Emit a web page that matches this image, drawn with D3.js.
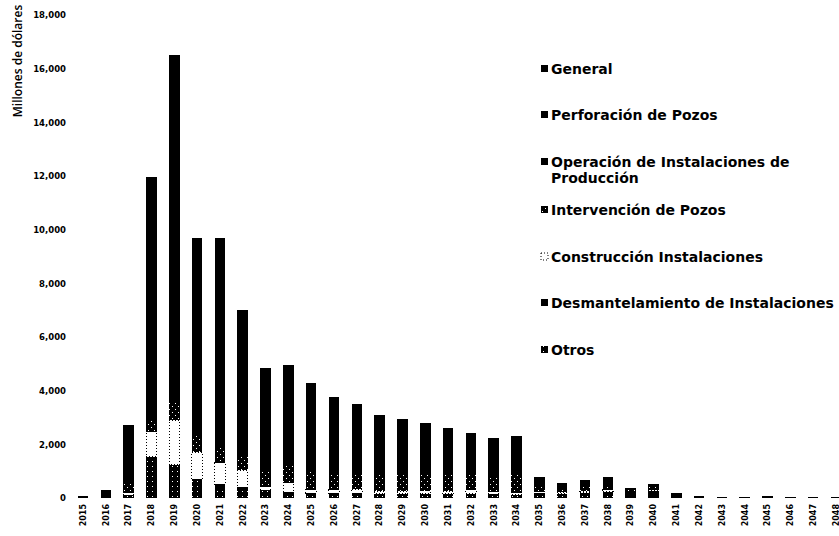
<!DOCTYPE html>
<html>
<head>
<meta charset="utf-8">
<script src="https://cdn.jsdelivr.net/npm/d3@7"></script>
<style>
  body { margin: 0; background: #fff; }
  svg { font-family: "DejaVu Sans", sans-serif; font-weight: bold; }
</style>
</head>
<body>
<svg width="839" height="536"></svg>
<script>
// Years on the x axis
const years = d3.range(2015, 2049).map(String);

// Series values (millones de dólares)
const general       = [20, 30, 200, 500, 500, 500, 500, 500, 500, 500, 500, 500, 500, 480, 460, 450, 440, 430, 420, 420, 100, 80, 80, 80, 40, 50, 30, 10, 5, 5, 5, 5, 5, 5];
const perforacion   = [40, 250, 1780, 7940, 11560, 6000, 6410, 4060, 2480, 2320, 1890, 1430, 1180, 880, 740, 620, 440, 260, 170, 230, 0, 0, 0, 0, 0, 0, 0, 0, 0, 0, 0, 0, 0, 0];
const operacion     = [0, 0, 200, 600, 900, 900, 900, 900, 900, 900, 900, 900, 900, 880, 870, 860, 850, 840, 830, 820, 240, 120, 160, 200, 30, 60, 0, 0, 0, 0, 0, 0, 0, 0];
const intervencion  = [0, 0, 350, 450, 640, 600, 550, 500, 560, 670, 700, 650, 600, 600, 620, 600, 640, 600, 580, 650, 200, 150, 180, 200, 60, 120, 0, 0, 0, 0, 0, 0, 0, 0];
const construccion  = [0, 0, 100, 930, 1670, 1000, 800, 640, 120, 340, 120, 130, 150, 100, 100, 120, 100, 150, 100, 60, 60, 60, 60, 70, 0, 40, 0, 0, 0, 0, 0, 0, 0, 0];
const desmantel     = [0, 0, 0, 30, 0, 0, 100, 0, 0, 0, 0, 0, 0, 0, 0, 0, 0, 0, 0, 0, 100, 100, 120, 150, 200, 200, 140, 60, 50, 50, 55, 45, 30, 30];
const otros         = [0, 0, 100, 1500, 1230, 700, 420, 400, 290, 220, 180, 170, 170, 160, 160, 150, 150, 150, 140, 130, 80, 60, 70, 80, 40, 50, 20, 0, 0, 0, 0, 0, 0, 0];

const yTicks = [0, 2000, 4000, 6000, 8000, 10000, 12000, 14000, 16000, 18000];

// Legend (top to bottom) and stacking order (bottom to top)
const legendItems = [
  {key: "general", label: ["General"], fill: "#000"},
  {key: "perforacion", label: ["Perforación de Pozos"], fill: "#000"},
  {key: "operacion", label: ["Operación de Instalaciones de", "Producción"], fill: "#000"},
  {key: "intervencion", label: ["Intervención de Pozos"], fill: "url(#dots)"},
  {key: "construccion", label: ["Construcción Instalaciones"], fill: "#fff"},
  {key: "desmantel", label: ["Desmantelamiento de Instalaciones"], fill: "#000"},
  {key: "otros", label: ["Otros"], fill: "url(#hatch)"}
];
const stackKeys = ["otros", "desmantel", "construccion", "intervencion", "operacion", "perforacion", "general"];

const series = {general, perforacion, operacion, intervencion, construccion, desmantel, otros};
const data = years.map((y, i) => {
  const row = {year: y};
  stackKeys.forEach(k => row[k] = series[k][i]);
  return row;
});

const svg = d3.select("svg");

// patterns for the speckled segments (scanned look)
const defs = svg.append("defs");
const dots = defs.append("pattern").attr("id", "dots").attr("patternUnits", "userSpaceOnUse")
  .attr("width", 6).attr("height", 6);
dots.append("rect").attr("width", 6).attr("height", 6).attr("fill", "#000");
dots.append("rect").attr("x", 1).attr("y", 1).attr("width", 1).attr("height", 1).attr("fill", "#fff");
dots.append("rect").attr("x", 4).attr("y", 4).attr("width", 1).attr("height", 1).attr("fill", "#fff");
const hatch = defs.append("pattern").attr("id", "hatch").attr("patternUnits", "userSpaceOnUse")
  .attr("width", 5).attr("height", 5);
hatch.append("rect").attr("width", 5).attr("height", 5).attr("fill", "#000");
hatch.append("rect").attr("x", 2).attr("y", 1).attr("width", 1).attr("height", 1).attr("fill", "#fff");

const fills = {};
legendItems.forEach(d => fills[d.key] = d.fill);

const x = d3.scaleBand()
  .domain(years)
  .range([71.6, 847.4])
  .paddingInner(0.54)
  .paddingOuter(0.27);

const y = d3.scaleLinear()
  .domain([0, 18000])
  .range([498, 15]);

const stacked = d3.stack().keys(stackKeys)(data);

svg.append("g")
  .attr("shape-rendering", "crispEdges")
  .selectAll("g")
  .data(stacked)
  .join("g")
  .attr("fill", d => fills[d.key])
  .attr("stroke", d => d.key === "construccion" ? "#000" : "none")
  .attr("stroke-dasharray", "1,2")
  .attr("stroke-width", 1)
  .selectAll("rect")
  .data(d => d)
  .join("rect")
  .attr("x", d => x(d.data.year))
  .attr("y", d => y(d[1]))
  .attr("width", x.bandwidth())
  .attr("height", d => Math.max(0, y(d[0]) - y(d[1])));

// Y axis (labels only)
const yAxis = svg.append("g")
  .attr("transform", "translate(66,0)")
  .call(d3.axisLeft(y).tickValues(yTicks).tickFormat(d3.format(",")).tickSize(0).tickPadding(0));
yAxis.select(".domain").remove();
yAxis.selectAll("text").attr("font-size", 8.5).attr("font-weight", "bold").attr("font-family", "DejaVu Sans");

// X axis (rotated labels)
const xAxis = svg.append("g")
  .attr("transform", "translate(0,504)")
  .call(d3.axisBottom(x).tickSize(0).tickPadding(0));
xAxis.select(".domain").remove();
xAxis.selectAll("text")
  .attr("font-size", 8)
  .attr("font-weight", "bold")
  .attr("font-family", "DejaVu Sans")
  .attr("transform", "rotate(-90)")
  .attr("text-anchor", "end")
  .attr("dy", "0.35em")
  .attr("x", 0)
  .attr("y", 0);

// Axis title
svg.append("text")
  .attr("transform", "translate(22,61) rotate(-90)")
  .attr("text-anchor", "middle")
  .attr("font-family", "Open Sans, sans-serif")
  .attr("font-size", 12)
  .attr("font-weight", 600)
  .text("Millones de dólares");

// Legend
const legend = svg.append("g").attr("transform", "translate(541,0)");
const legendY = [69, 115, 162, 210, 257, 303, 350];
legendItems.forEach((d, i) => {
  const g = legend.append("g").attr("transform", `translate(0,${legendY[i]})`);
  g.append("rect")
    .attr("x", 0).attr("y", -4).attr("width", 7).attr("height", 7)
    .attr("fill", d.fill)
    .attr("stroke", d.key === "construccion" ? "#000" : "none")
    .attr("stroke-dasharray", "1,2");
  d.label.forEach((line, j) => {
    g.append("text")
      .attr("x", 10).attr("y", j * 16)
      .attr("dy", "0.35em")
      .attr("font-size", 14)
      .text(line);
  });
});
</script>
</body>
</html>
